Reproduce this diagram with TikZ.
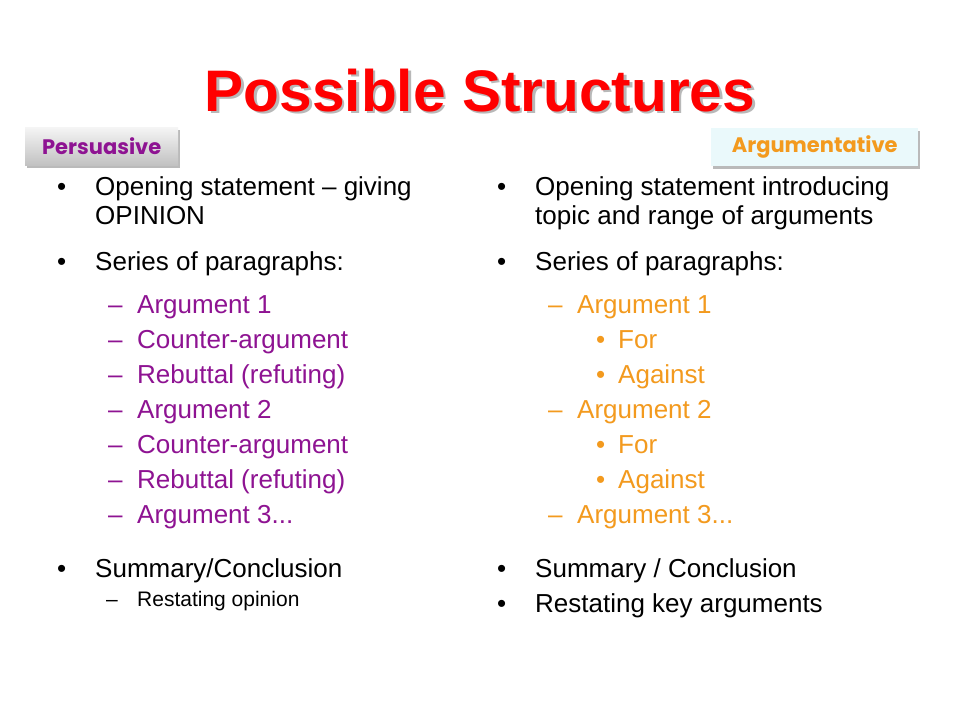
\documentclass[tikz,border=0pt]{standalone}
\usepackage{fontspec}
\setmainfont{Liberation Sans}
\newfontfamily\labelfont{Poppins}
\usetikzlibrary{shadows}
\definecolor{purp}{HTML}{8E1392}
\definecolor{orng}{HTML}{F39A1E}
\definecolor{titlered}{HTML}{FF0000}
\definecolor{boxcyan}{HTML}{EAF9FB}
\begin{document}
\begin{tikzpicture}[x=1pt,y=-1pt,
  txt/.style={anchor=base west, inner sep=0pt, font=\fontsize{26}{30}\selectfont},
  small/.style={anchor=base west, inner sep=0pt, font=\fontsize{21}{25}\selectfont},
  titletxt/.style={anchor=base, inner sep=0pt, font=\fontsize{58.6}{64}\selectfont\bfseries},
  tagbox/.style={anchor=north west, inner sep=0pt, minimum height=38pt,
     font=\labelfont\bfseries\fontsize{21}{25}\selectfont,
     drop shadow={shadow xshift=2pt, shadow yshift=-3pt, opacity=0.45, fill=black!60}},
  purpt/.style={txt, text=purp},
  orngt/.style={txt, text=orng}]
\useasboundingbox (0,0) rectangle (960,720);
\fill[white] (0,0) rectangle (960,720);

% title
\node[titletxt, text=black!28] (titleshadow) at (482.5,113.5) {Possible Structures};
\node[titletxt, text=titlered] (title) at (480,111) {Possible Structures};

% tag boxes
\node[tagbox, minimum width=153pt, top color=black!4, bottom color=black!24, text=purp] (pbox) at (25,127) {Persuasive};
\node[tagbox, minimum width=207pt, fill=boxcyan, text=orng] (abox) at (711,128) {Argumentative};

% left column
\node[txt] (lb1) at (57,195) {•};
\node[txt] (l1) at (95,195) {Opening statement – giving};
\node[txt] (l1b) at (95,224) {OPINION};
\node[txt] (lb2) at (57,270) {•};
\node[txt] (l2) at (95,270) {Series of paragraphs:};
\node[purpt] (ld1) at (108,313) {–};
\node[purpt] (la1) at (137,313) {Argument 1};
\node[purpt] (ld2) at (108,348) {–};
\node[purpt] (la2) at (137,348) {Counter-argument};
\node[purpt] (ld3) at (108,383) {–};
\node[purpt] (la3) at (137,383) {Rebuttal (refuting)};
\node[purpt] (ld4) at (108,418) {–};
\node[purpt] (la4) at (137,418) {Argument 2};
\node[purpt] (ld5) at (108,453) {–};
\node[purpt] (la5) at (137,453) {Counter-argument};
\node[purpt] (ld6) at (108,488) {–};
\node[purpt] (la6) at (137,488) {Rebuttal (refuting)};
\node[purpt] (ld7) at (108,523) {–};
\node[purpt] (la7) at (137,523) {Argument 3...};
\node[txt] (lb3) at (57,577) {•};
\node[txt] (l3) at (95,577) {Summary/Conclusion};
\node[small] (ld8) at (106,606) {–};
\node[small] (l4) at (137,606) {Restating opinion};

% right column
\node[txt] (rb1) at (497,195) {•};
\node[txt] (r1) at (535,195) {Opening statement introducing};
\node[txt] (r1b) at (535,224) {topic and range of arguments};
\node[txt] (rb2) at (497,270) {•};
\node[txt] (r2) at (535,270) {Series of paragraphs:};
\node[orngt] (rd1) at (548,313) {–};
\node[orngt] (ra1) at (577,313) {Argument 1};
\node[orngt] (rs1) at (596,348) {•};
\node[orngt] (rf1) at (618,348) {For};
\node[orngt] (rs2) at (596,383) {•};
\node[orngt] (rg1) at (618,383) {Against};
\node[orngt] (rd2) at (548,418) {–};
\node[orngt] (ra2) at (577,418) {Argument 2};
\node[orngt] (rs3) at (596,453) {•};
\node[orngt] (rf2) at (618,453) {For};
\node[orngt] (rs4) at (596,488) {•};
\node[orngt] (rg2) at (618,488) {Against};
\node[orngt] (rd3) at (548,523) {–};
\node[orngt] (ra3) at (577,523) {Argument 3...};
\node[txt] (rb3) at (497,577) {•};
\node[txt] (r3) at (535,577) {Summary / Conclusion};
\node[txt] (rb4) at (497,612) {•};
\node[txt] (r4) at (535,612) {Restating key arguments};
\end{tikzpicture}
\end{document}
